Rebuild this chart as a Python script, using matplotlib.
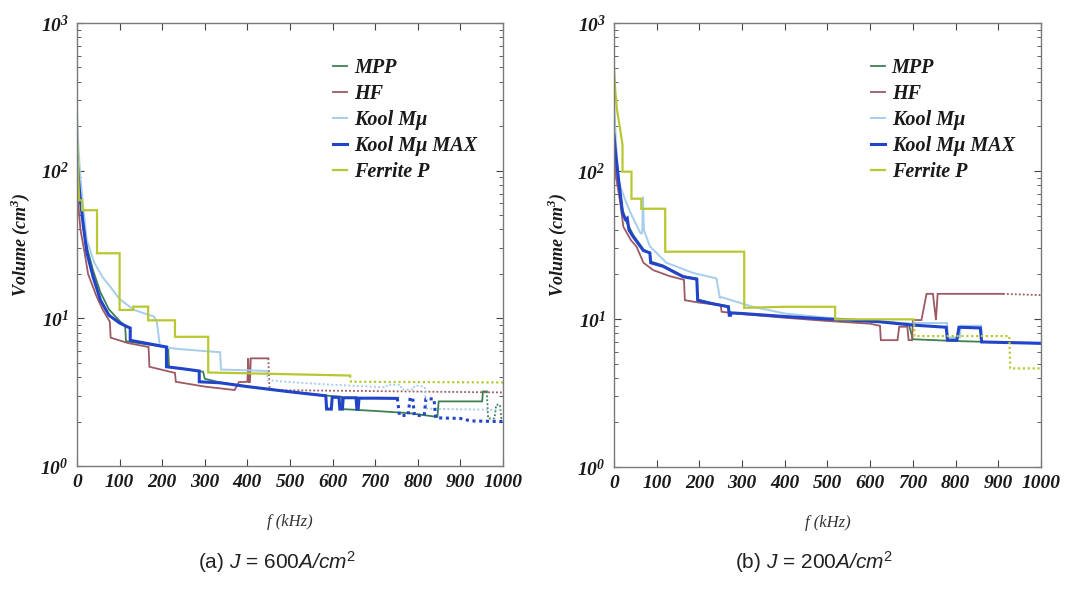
import numpy as np
import matplotlib
matplotlib.use('Agg')
import matplotlib.pyplot as plt
from matplotlib.ticker import FixedLocator, FuncFormatter, LogLocator, NullFormatter

plt.rcParams['font.family'] = ['Liberation Serif', 'DejaVu Serif']
plt.rcParams['font.style'] = 'italic'
plt.rcParams['font.weight'] = 'bold'
plt.rcParams['mathtext.fontset'] = 'custom'
plt.rcParams['mathtext.it'] = 'Liberation Sans:style=italic:weight=normal'
plt.rcParams['mathtext.rm'] = 'Liberation Sans:weight=normal'

labels = ['MPP', 'HF', 'Kool Mμ', 'Kool Mμ MAX', 'Ferrite P']
colors = ['#3f7f55', '#9c5a63', '#a6cdec', '#2244c8', '#b8c832']
widths = [1.3, 1.3, 1.4, 2.2, 1.6]

# ---- (a) J = 600 A/cm^2 : solid part, then dotted tail ----
a_mpp_f = [0, 3, 8, 15, 25, 38, 55, 75, 100, 113, 115, 160, 214, 216, 260, 296, 300, 340, 400, 500, 584, 621, 623, 700, 780, 846, 849, 951, 953, 962]
a_mpp_v = [130, 92, 65, 44, 29, 21, 15, 11.5, 9.6, 8.9, 7.0, 6.7, 6.35, 4.7, 4.5, 4.35, 3.9, 3.66, 3.46, 3.19, 3.0, 2.94, 2.43, 2.36, 2.28, 2.15, 2.74, 2.74, 3.2, 3.2]
a_mpp_fd = [962, 965, 980, 984, 993, 996, 1000]
a_mpp_vd = [3.2, 2.1, 2.1, 2.6, 2.6, 2.1, 2.1]

a_hf_f = [0, 3, 8, 18, 26, 45, 60, 77, 79, 120, 168, 170, 230, 232, 300, 370, 380, 400, 402, 404, 406, 408, 449]
a_hf_v = [100, 60, 40, 27.7, 20, 14.3, 11.5, 9.5, 7.4, 6.8, 6.4, 4.7, 4.27, 3.72, 3.45, 3.27, 3.7, 3.72, 5.36, 3.7, 3.7, 5.36, 5.36]
a_hf_fd = [449, 452, 1000]
a_hf_vd = [5.36, 3.27, 3.15]

a_kool_f = [0, 3, 8, 15, 23, 40, 60, 78, 100, 134, 180, 187, 195, 240, 300, 336, 338, 400, 445]
a_kool_v = [260, 150, 90, 55, 34, 24, 19, 16.4, 13.5, 11.4, 10.3, 9.6, 6.4, 6.2, 6.0, 5.9, 4.5, 4.45, 4.4]
a_kool_fd = [445, 448, 500, 600, 726, 728, 760, 762, 790, 792, 800, 816, 820, 900, 1000]
a_kool_vd = [4.4, 3.82, 3.7, 3.55, 3.41, 3.55, 3.55, 3.3, 3.3, 3.5, 3.5, 3.45, 2.45, 2.42, 2.4]

a_max_f = [0, 3, 7, 15, 23, 38, 55, 75, 100, 117, 125, 125, 160, 210, 210, 250, 287, 287, 336, 400, 500, 584, 586, 597, 599, 615, 617, 623, 625, 655, 657, 660, 662, 700, 752]
a_max_v = [124, 90, 67, 42, 28, 19, 13.3, 10.5, 9.3, 8.8, 8.6, 7.1, 6.8, 6.4, 4.7, 4.55, 4.4, 3.72, 3.66, 3.45, 3.18, 2.99, 2.43, 2.43, 2.92, 2.92, 2.43, 2.43, 2.9, 2.9, 2.43, 2.43, 2.88, 2.88, 2.87]
a_max_fd = [752, 757, 777, 782, 788, 792, 815, 819, 838, 842, 900, 925, 1000]
a_max_vd = [2.87, 2.2, 2.2, 2.9, 2.9, 2.2, 2.2, 2.85, 2.85, 2.12, 2.1, 2.02, 2.0]

a_fer_f = [0, 2, 5, 12, 12, 47, 47, 100, 100, 132, 132, 167, 167, 230, 230, 308, 308, 641]
a_fer_v = [182, 110, 63, 63, 54, 54, 27.6, 27.6, 11.4, 11.4, 12, 12, 9.7, 9.7, 7.5, 7.5, 4.3, 4.1]
a_fer_fd = [641, 643, 1000]
a_fer_vd = [4.1, 3.72, 3.68]

# ---- (b) J = 200 A/cm^2 ----
b_mpp_f = [0, 4, 9, 20, 30, 45, 69, 84, 86, 115, 162, 194, 196, 230, 268, 270, 275, 300, 400, 500, 619, 690, 700, 800, 1000]
b_mpp_v = [160, 120, 92, 55, 45, 37, 29.5, 28, 24.5, 23, 19.5, 18.8, 13.5, 12.8, 12.2, 10.8, 11.0, 10.9, 10.4, 10.0, 9.6, 9.3, 7.3, 7.1, 6.85]
b_mpp_fd = []
b_mpp_vd = []

b_hf_f = [0, 5, 14, 22, 40, 53, 69, 92, 130, 164, 166, 200, 250, 252, 300, 400, 500, 600, 623, 625, 664, 668, 687, 690, 698, 700, 720, 732, 747, 754, 758, 911]
b_hf_v = [143, 90, 63, 42, 34, 30.8, 24, 21.4, 19.5, 18.4, 13.4, 12.9, 12.4, 11.2, 10.8, 10.2, 9.7, 9.3, 9.0, 7.2, 7.2, 8.87, 8.87, 7.2, 7.2, 9.84, 9.84, 14.8, 14.8, 9.84, 14.8, 14.8]
b_hf_fd = [911, 1000]
b_hf_vd = [14.8, 14.5]

b_kool_f = [0, 5, 12, 27, 39, 62, 66, 68, 70, 84, 123, 185, 240, 248, 250, 325, 400, 500, 600, 700, 702, 780, 782, 810, 812, 860, 862, 1000]
b_kool_v = [300, 150, 83, 63, 52, 38, 38, 67, 40, 31, 24, 20.5, 18.8, 13.8, 14.1, 12.1, 10.9, 10.2, 9.7, 9.3, 9.4, 9.4, 7.5, 7.5, 9.0, 9.0, 7.0, 6.9]
b_kool_fd = []
b_kool_vd = []

b_max_f = [0, 4, 9, 20, 27, 31, 35, 45, 69, 84, 86, 115, 162, 194, 196, 230, 268, 270, 273, 275, 300, 400, 500, 619, 700, 778, 781, 803, 808, 858, 861, 1000]
b_max_v = [175, 130, 97, 52, 47, 48, 40, 36, 29, 28, 24, 22.7, 19.3, 18.6, 13.4, 12.7, 12.1, 10.6, 10.6, 11.0, 10.9, 10.4, 10.0, 9.6, 9.1, 8.8, 7.2, 7.2, 8.8, 8.7, 7.0, 6.85]
b_max_fd = []
b_max_vd = []

b_fer_f = [0, 3, 7, 14, 20, 20, 41, 41, 64, 64, 120, 120, 305, 305, 400, 518, 518, 702]
b_fer_v = [505, 350, 260, 195, 150, 99, 99, 65, 65, 55.6, 55.6, 28.5, 28.5, 11.9, 12.1, 12.1, 9.95, 9.95]
b_fer_fd = [702, 704, 926, 928, 1000]
b_fer_vd = [9.95, 7.67, 7.67, 4.64, 4.64]

panel_a = [(a_mpp_f, a_mpp_v, a_mpp_fd, a_mpp_vd), (a_hf_f, a_hf_v, a_hf_fd, a_hf_vd),
           (a_kool_f, a_kool_v, a_kool_fd, a_kool_vd), (a_max_f, a_max_v, a_max_fd, a_max_vd),
           (a_fer_f, a_fer_v, a_fer_fd, a_fer_vd)]
panel_b = [(b_mpp_f, b_mpp_v, b_mpp_fd, b_mpp_vd), (b_hf_f, b_hf_v, b_hf_fd, b_hf_vd),
           (b_kool_f, b_kool_v, b_kool_fd, b_kool_vd), (b_max_f, b_max_v, b_max_fd, b_max_vd),
           (b_fer_f, b_fer_v, b_fer_fd, b_fer_vd)]

captions = [r'(a) $J$ = 600$A/cm^{\mathregular{2}}$', r'(b) $J$ = 200$A/cm^{\mathregular{2}}$']

fig = plt.figure(figsize=(10.89, 5.92), dpi=100)
axes = [fig.add_axes([0.0707, 0.2128, 0.3912, 0.7483]),
        fig.add_axes([0.5638, 0.2111, 0.3921, 0.75])]

for ax, panel, cap in zip(axes, [panel_a, panel_b], captions):
    for (f, v, fd, vd), lab, c, lw in zip(panel, labels, colors, widths):
        ax.plot(f, v, color=c, lw=lw, label=lab, solid_joinstyle='miter')
        if fd:
            ax.plot(fd, vd, color=c, lw=lw, ls=(0, (1, 1.2)))
    ax.set_yscale('log')
    ax.set_xlim(0, 1000)
    ax.set_ylim(1, 1000)
    ax.xaxis.set_major_locator(FixedLocator(np.arange(0, 1001, 100)))
    ax.yaxis.set_major_locator(FixedLocator([1, 10, 100, 1000]))
    ax.yaxis.set_minor_locator(LogLocator(base=10, subs=np.arange(2, 10)))
    ax.yaxis.set_minor_formatter(NullFormatter())
    ax.yaxis.set_major_formatter(FuncFormatter(lambda y, p: r'$\mathregular{10^{%d}}$' % round(np.log10(y))))
    ax.tick_params(which='both', direction='in', top=True, right=True, color='#444444',
                   labelsize=14, labelcolor='#1a1a1a')
    ax.tick_params(which='major', length=5, width=0.8, pad=6)
    ax.tick_params(which='minor', length=3, width=0.6)
    for s in ax.spines.values():
        s.set_color('#7a7a7a')
        s.set_linewidth(1.0)
    ax.set_ylabel(r'Volume (cm$^{\mathregular{3}}$)', fontsize=13, fontweight='bold', labelpad=6, color='#1a1a1a')
    ax.set_xlabel('f (kHz)', fontsize=12, fontweight='normal', labelpad=16, color='#333333')
    leg = ax.legend(loc='upper left', bbox_to_anchor=(0.582, 0.94), frameon=False,
                    handlelength=0.7, handletextpad=0.35, labelspacing=0.3, fontsize=14.5,
                    borderaxespad=0)
    for t in leg.get_texts():
        t.set_color('#1a1a1a')
    pos = ax.get_position()
    fig.text(pos.x0 + pos.width / 2 - 0.012, 0.05, cap, ha='center', va='center',
             fontsize=15, family='Liberation Sans', style='normal', weight='normal', color='#222222')

fig.savefig('out.png', dpi=100)
